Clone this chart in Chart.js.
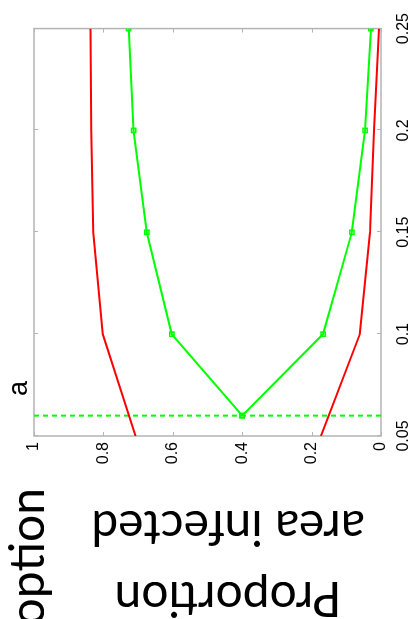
<!DOCTYPE html>
<html>
<head>
<meta charset="utf-8">
<script src="https://cdn.jsdelivr.net/npm/chart.js@4"></script>
<style>
  html, body { margin:0; padding:0; background:#ffffff; overflow:hidden; width:417px; height:619px; }
  #stage { position:absolute; left:0; top:0; width:619px; height:417px;
           transform-origin:0 0; transform:translateY(619px) rotate(-90deg); background:#fff; }
  #c { position:absolute; left:0; top:0; }
  .ytitle { position:absolute; left:-146px; top:157px; width:400px; height:142px;
            font-family:Lato, sans-serif; font-size:48px; line-height:71px; text-align:center;
            color:#000; transform:rotate(-90deg); white-space:nowrap; }
  .adopt { position:absolute; right:488px; top:2px; font-family:Lato, sans-serif; font-size:48px;
           line-height:48px; color:#000; white-space:nowrap; }
  .panel { position:absolute; left:223px; top:5px; font-family:"Liberation Sans", Arial, sans-serif;
           font-size:27px; line-height:26px; color:#000; }
</style>
</head>
<body>
<div id="stage">
  <canvas id="c" width="619" height="417"></canvas>
  <div class="ytitle">Proportion<br>area infected</div>
  <div class="adopt">Adoption</div>
  <div class="panel">a</div>
</div>
<script>
// ---- data ----
const redX        = [0.05, 0.10, 0.15, 0.20, 0.25];
const redUpper    = [0.707, 0.802, 0.829, 0.835, 0.837];
const redLower    = [0.173, 0.061, 0.032, 0.020, 0.006];
const greenX      = [0.06, 0.10, 0.15, 0.20, 0.25];
const greenUpper  = [0.400, 0.603, 0.675, 0.713, 0.727];
const greenLower  = [0.400, 0.167, 0.084, 0.046, 0.029];
const thresholdX  = 0.06;
const thresholdY  = [0, 1];
const xTicks      = [0.05, 0.10, 0.15, 0.20, 0.25];
const yTicks      = [0, 0.2, 0.4, 0.6, 0.8, 1];

const pts = (xs, ys) => xs.map((x, i) => ({ x: x, y: ys[i] }));
const fmt = v => String(Number(v.toFixed(2)));

const RED = '#ff0000', GREEN = '#00ff00', FRAME = '#b4b4b4';

// use a narrow sans for tick labels if one is installed
function hasFont(name) {
  const cx = document.createElement('canvas').getContext('2d');
  cx.font = '20px monospace'; const a = cx.measureText('0.25 0.8 abc').width;
  cx.font = '20px "' + name + '", monospace'; const b = cx.measureText('0.25 0.8 abc').width;
  return Math.abs(a - b) > 0.5;
}
const narrow = hasFont('Liberation Sans Narrow');
const tickFont = narrow
  ? { family: '"Liberation Sans Narrow", "Liberation Sans", Arial, sans-serif', size: 17 }
  : { family: '"Liberation Sans", Arial, sans-serif', size: 16 };

const framePlugin = {
  id: 'frame',
  beforeDatasetsDraw(chart) {
    const { ctx, chartArea: a, scales: { x, y } } = chart;
    ctx.save();
    ctx.strokeStyle = FRAME;
    ctx.lineWidth = 1.5;
    ctx.strokeRect(a.left, a.top, a.right - a.left, a.bottom - a.top);
    ctx.lineWidth = 1;
    ctx.beginPath();
    xTicks.forEach(v => {
      const p = Math.round(x.getPixelForValue(v)) + 0.5;
      ctx.moveTo(p, a.bottom); ctx.lineTo(p, a.bottom - 4);
      ctx.moveTo(p, a.top);    ctx.lineTo(p, a.top + 4);
    });
    yTicks.forEach(v => {
      const p = Math.round(y.getPixelForValue(v)) + 0.5;
      ctx.moveTo(a.left, p);  ctx.lineTo(a.left + 4, p);
      ctx.moveTo(a.right, p); ctx.lineTo(a.right - 4, p);
    });
    ctx.stroke();
    ctx.restore();
  }
};

new Chart(document.getElementById('c'), {
  type: 'line',
  data: {
    datasets: [
      { data: pts(redX, redUpper), borderColor: RED, borderWidth: 2, pointRadius: 0, tension: 0 },
      { data: pts(redX, redLower), borderColor: RED, borderWidth: 2, pointRadius: 0, tension: 0 },
      { data: pts(greenX, greenUpper), borderColor: GREEN, borderWidth: 2, tension: 0,
        pointStyle: 'rect', pointRadius: 3, pointBorderColor: GREEN, pointBackgroundColor: 'rgba(255,255,255,0)', pointBorderWidth: 1.5 },
      { data: pts(greenX, greenLower), borderColor: GREEN, borderWidth: 2, tension: 0,
        pointStyle: 'rect', pointRadius: 3, pointBorderColor: GREEN, pointBackgroundColor: 'rgba(255,255,255,0)', pointBorderWidth: 1.5 },
      { data: pts([thresholdX, thresholdX], thresholdY), borderColor: GREEN, borderWidth: 2,
        borderDash: [5, 4], pointRadius: 0 }
    ]
  },
  options: {
    responsive: false,
    animation: false,
    devicePixelRatio: 1,
    layout: { padding: { top: 34, right: 20, left: 0, bottom: 0 } },
    plugins: { legend: { display: false }, tooltip: { enabled: false } },
    scales: {
      x: {
        type: 'linear', min: 0.05, max: 0.25,
        afterBuildTicks: s => { s.ticks = xTicks.map(v => ({ value: v })); },
        afterFit: s => { s.height = 36; },
        grid: { display: false, drawTicks: false },
        border: { display: false },
        ticks: { color: '#000', font: tickFont, padding: 13, maxRotation: 0, autoSkip: false,
                 callback: v => fmt(v) }
      },
      y: {
        type: 'linear', min: 0, max: 1,
        afterBuildTicks: s => { s.ticks = yTicks.map(v => ({ value: v })); },
        afterFit: s => { s.width = 183; },
        grid: { display: false, drawTicks: false },
        border: { display: false },
        ticks: { color: '#000', font: tickFont, padding: 6, autoSkip: false,
                 callback: v => fmt(v) }
      }
    }
  },
  plugins: [framePlugin]
});
</script>
</body>
</html>
